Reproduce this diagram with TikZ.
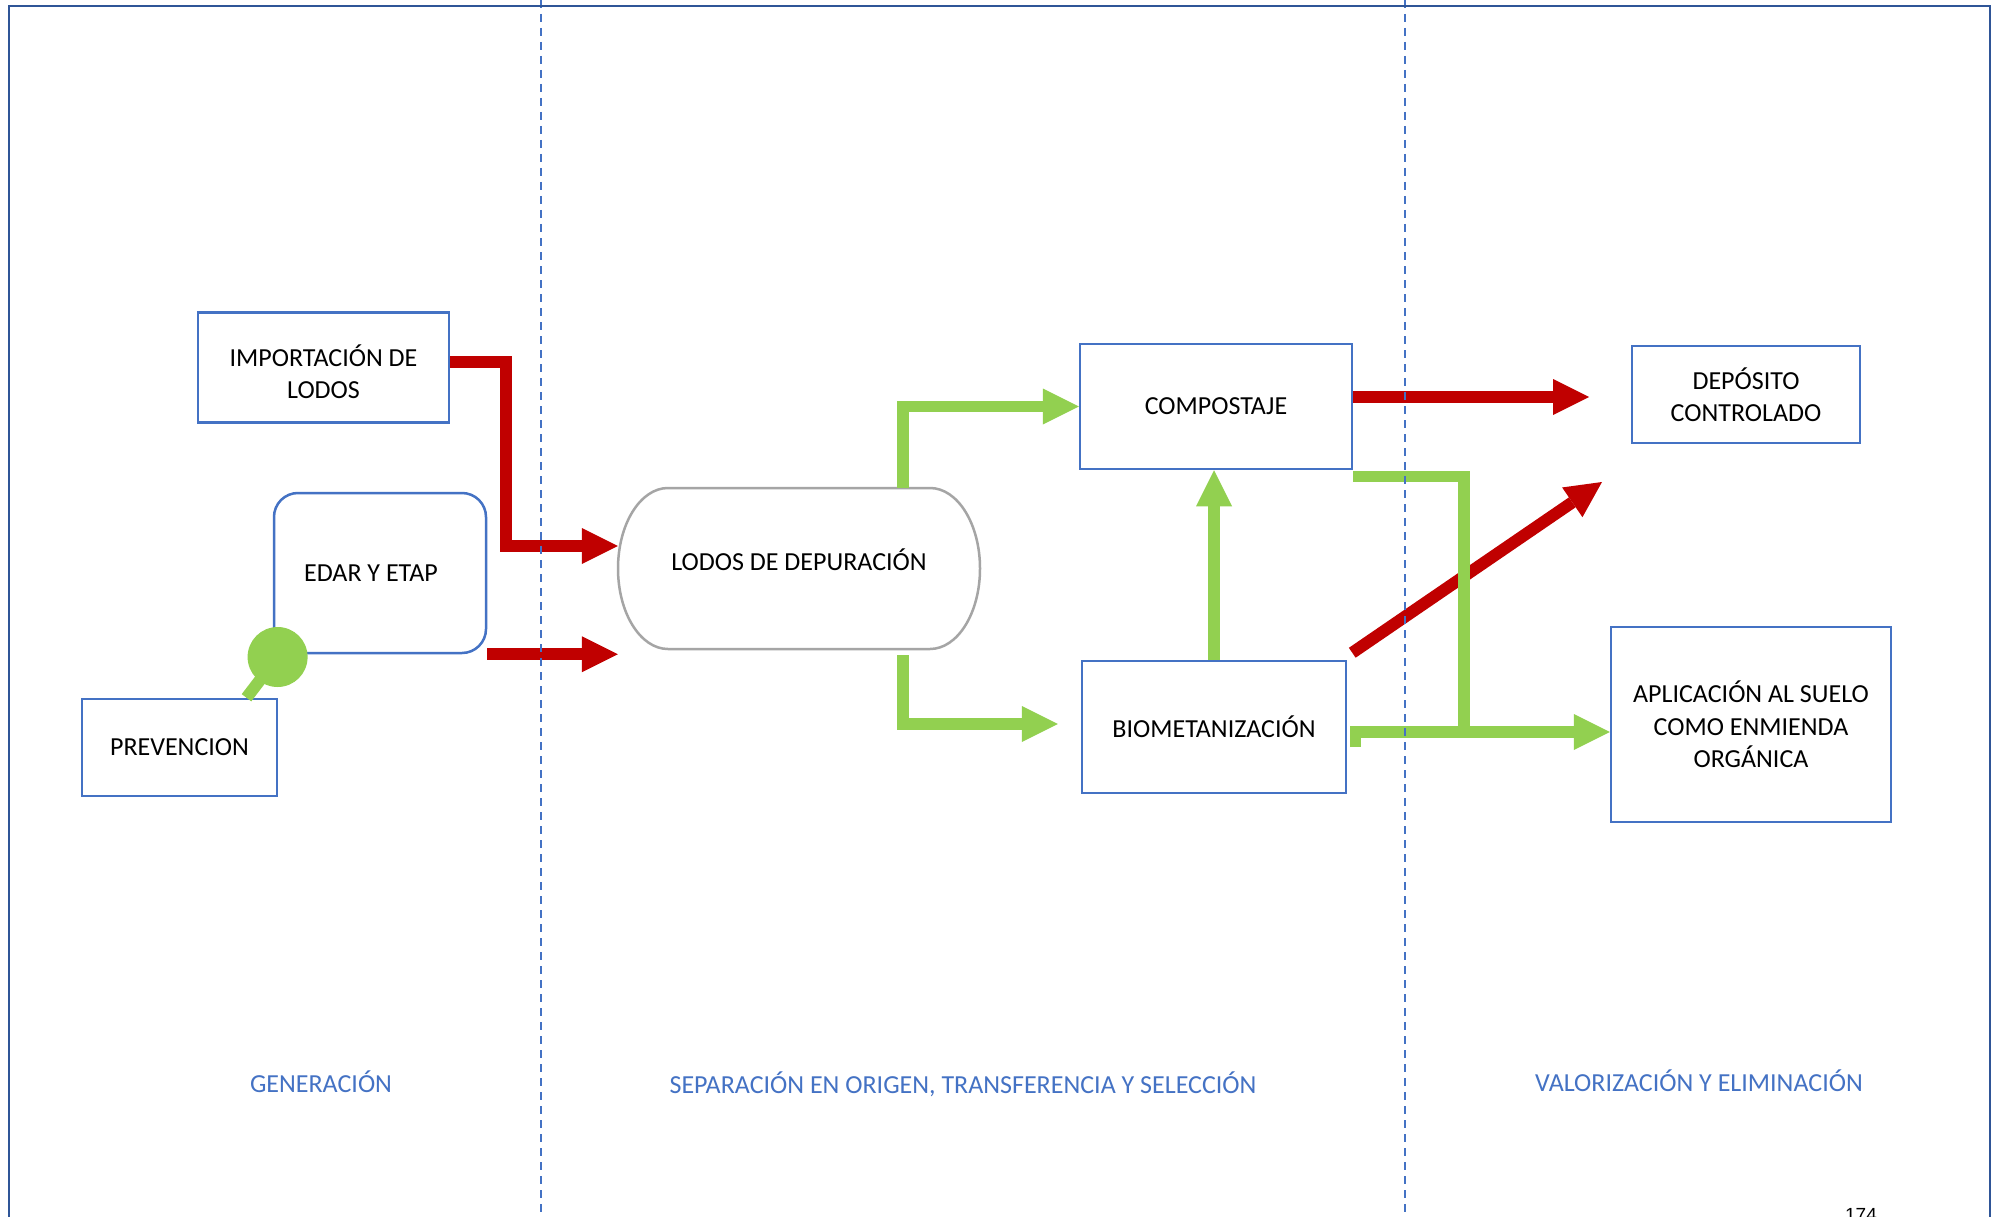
\documentclass[tikz,border=0pt]{standalone}
\usepackage{fontspec}
\setmainfont{Carlito}
\newfontfamily\arialfont{Liberation Sans}
\usetikzlibrary{arrows.meta}
\definecolor{boxblue}{HTML}{4472C4}
\definecolor{framec}{HTML}{2F5597}
\definecolor{redc}{HTML}{C00000}
\definecolor{greenc}{HTML}{92D050}
\definecolor{grayc}{HTML}{A5A5A5}
\tikzset{
  box/.style={draw=boxblue, line width=2.5pt, align=center, font=\fontsize{26}{32.5}\selectfont, inner sep=0pt},
  redarrow/.style={draw=redc, line width=12pt, line join=miter, -{Triangle[length=36pt,width=36pt,line width=0pt]}},
  greenarrow/.style={draw=greenc, line width=11.5pt, line join=miter, -{Triangle[length=36pt,width=36pt,line width=0pt]}},
  greenline/.style={draw=greenc, line width=11.5pt, line join=miter},
  phase/.style={text=boxblue, font=\fontsize{26}{32}\selectfont, anchor=base},
  divider/.style={draw=boxblue, line width=2pt, dash pattern=on 8pt off 6pt},
}
\begin{document}
\begin{tikzpicture}[x=1pt,y=-1pt]
\useasboundingbox[fill=white] (0,0) rectangle (1999,1217);

% nodes
\node[box, minimum width=251pt, minimum height=110pt] (imp) at (323.5,367.5)
  {\raisebox{1.5pt}[0pt][0pt]{\begin{tabular}[t]{@{}c@{}}IMPORTACIÓN DE\\LODOS\end{tabular}}};
\node[box, rounded corners=24pt, minimum width=212pt, minimum height=160pt] (edar) at (380,573) {EDAR Y ETAP\hspace*{18pt}};
\node[box, minimum width=195pt, minimum height=97pt] (prev) at (179.5,747.5) {PREVENCION};
\node[inner sep=0pt, minimum width=362pt, minimum height=161pt, font=\fontsize{26}{32.5}\selectfont] (lodos) at (799,568.5) {\raisebox{-1.5pt}[0pt][0pt]{LODOS DE DEPURACIÓN}};
\draw[draw=grayc, line width=2.5pt]
  (668,488) -- (930,488)
  arc[start angle=90, end angle=-90, x radius=50pt, y radius=80.5pt]
  -- (668,649)
  arc[start angle=270, end angle=90, x radius=50pt, y radius=80.5pt] -- cycle;
\node[box, minimum width=272pt, minimum height=125pt] (comp) at (1216,406.5) {COMPOSTAJE};
\node[box, minimum width=264pt, minimum height=132pt] (bio) at (1214,727) {BIOMETANIZACIÓN};
\node[box, minimum width=228pt, minimum height=97pt] (dep) at (1746,394.5) {DEPÓSITO\\CONTROLADO};
\node[box, minimum width=280pt, minimum height=195pt] (apl) at (1751,724.5) {APLICACIÓN AL SUELO\\COMO ENMIENDA\\ORGÁNICA};

% prevention link
\draw[greenline, line width=12pt] ([xshift=67pt]prev.north) -- (277.6,657);
\node[circle, fill=greenc, minimum size=60pt, inner sep=0pt] (dot) at (277.6,657) {};

% red arrows
\coordinate (r1c) at (505.7,546);
\draw[redarrow] ([yshift=6pt]imp.east) -| (r1c) -- (r1c -| lodos.west);
\draw[redarrow] (edar.south east) -- (edar.south east -| lodos.west);
\coordinate (r3t) at (1589,397);
\draw[redarrow] (r3t -| comp.east) -- (r3t);
\coordinate (r4t) at (1602,482);
\draw[redarrow] ([xshift=5pt,yshift=7pt]bio.north east) -- (r4t);

% green arrows
\draw[greenarrow] ([xshift=104pt]lodos.north) |- (comp.west);
\draw[greenarrow] ([xshift=104pt,yshift=-6pt]lodos.south) |- ([xshift=-23pt,yshift=3pt]bio.west);
\draw[greenarrow] (bio.north) -- (bio.north |- comp.south);
\coordinate (g4c) at (1464,738);
\draw[greenline] ([yshift=-6pt]comp.south east) -| (g4c);
\draw[greenarrow] ([xshift=8pt,yshift=-20pt]bio.east) |- ([yshift=-7.5pt]apl.west);

% phase labels
\node[phase] (gen) at (321,1092) {GENERACIÓN};
\node[phase] (sep) at (963,1093) {SEPARACIÓN EN ORIGEN, TRANSFERENCIA Y SELECCIÓN};
\node[phase] (val) at (1699,1091) {VALORIZACIÓN Y ELIMINACIÓN};
\node[anchor=base, font=\arialfont\fontsize{19}{19}\selectfont, inner sep=0pt] (pg) at (1861,1221) {174};

% dividers
\draw[divider] (541,0) -- (541,1217);
\draw[divider] (1405,0) -- (1405,1217);

% frame
\draw[framec, line width=2.7pt] (9,1230) -- (9,6) -- (1990,6) -- (1990,1230);
\end{tikzpicture}
\end{document}
